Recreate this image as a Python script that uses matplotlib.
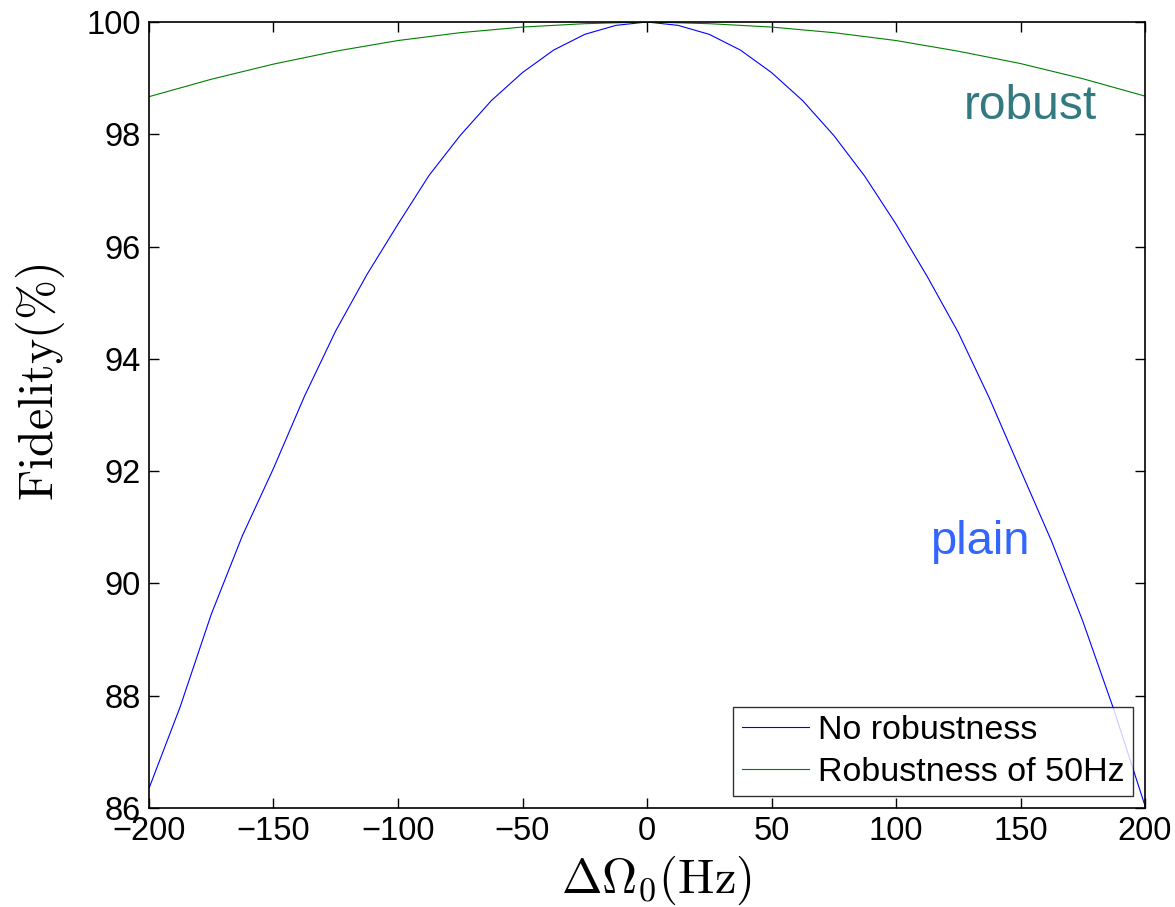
import matplotlib
matplotlib.use("Agg")
import matplotlib.pyplot as plt

# Data
x_plain = [-200, -187.5, -175, -162.5, -150, -137.5, -125, -112.5, -100, -87.5, -75, -62.5,
           -50, -37.5, -25, -12.5, 0, 12.5, 25, 37.5, 50, 62.5, 75, 87.5, 100, 112.5,
           125, 137.5, 150, 162.5, 175, 187.5, 200]
f_plain = [86.35, 87.8, 89.45, 90.85, 92.05, 93.34, 94.5, 95.5, 96.4, 97.27, 97.98, 98.6,
           99.1, 99.5, 99.78, 99.94, 100.0, 99.94, 99.78, 99.5, 99.1, 98.6, 97.98, 97.25, 96.4, 95.47,
           94.47, 93.3, 92.02, 90.75, 89.33, 87.75, 86.04]

x_robust = [-200, -175, -150, -125, -100, -75, -50, -25, 0, 25, 50, 75, 100, 125, 150, 175, 200]
f_robust = [98.67, 98.98, 99.25, 99.48, 99.67, 99.81, 99.91, 99.97, 100.0,
            99.97, 99.91, 99.81, 99.67, 99.48, 99.26, 98.99, 98.68]

xticks = [-200, -150, -100, -50, 0, 50, 100, 150, 200]
yticks = [86, 88, 90, 92, 94, 96, 98, 100]
legend_labels = ["No robustness", "Robustness of 50Hz"]

plt.rcParams['font.family'] = ['Liberation Sans', 'DejaVu Sans']
plt.rcParams['mathtext.fontset'] = 'cm'

fig = plt.figure(figsize=(11.75, 9.07), dpi=100)
ax = fig.add_axes([149/1175, 1 - 808/907, (1145 - 149)/1175, (808 - 22)/907])

ax.plot(x_plain, f_plain, color='#0000ff', lw=0.8, label=legend_labels[0])
ax.plot(x_robust, f_robust, color='#008000', lw=0.8, label=legend_labels[1])

ax.set_xlim(-200, 200)
ax.set_ylim(86, 100)
ax.set_xticks(xticks)
ax.set_yticks(yticks)
ax.tick_params(direction='in', length=7, width=1, labelsize=23.5, top=True, right=True, pad=6)
for s in ax.spines.values():
    s.set_linewidth(1.2)

ax.set_xlabel(r'$\Delta\Omega_0(\mathrm{Hz})$', fontsize=35)
ax.xaxis.set_label_coords(0.509, -0.058)
ax.set_ylabel(r'$\mathrm{Fidelity}(\%)$', fontsize=34.5)
ax.yaxis.set_label_coords(-0.082, 0.541)

ax.text(154, 98.28, 'robust', color='#337a80', fontsize=34.5, ha='center', va='baseline')
ax.text(113.7, 90.53, 'plain', color='#3366ff', fontsize=34, ha='left', va='baseline')

leg = ax.legend(loc='lower right', fontsize=24.5, frameon=True, fancybox=False,
                edgecolor='black', handlelength=1.97, handletextpad=0.27,
                borderaxespad=0.35, borderpad=0.25, labelspacing=0.3)
leg.get_frame().set_linewidth(1.0)

fig.savefig('out.png', dpi=100)
